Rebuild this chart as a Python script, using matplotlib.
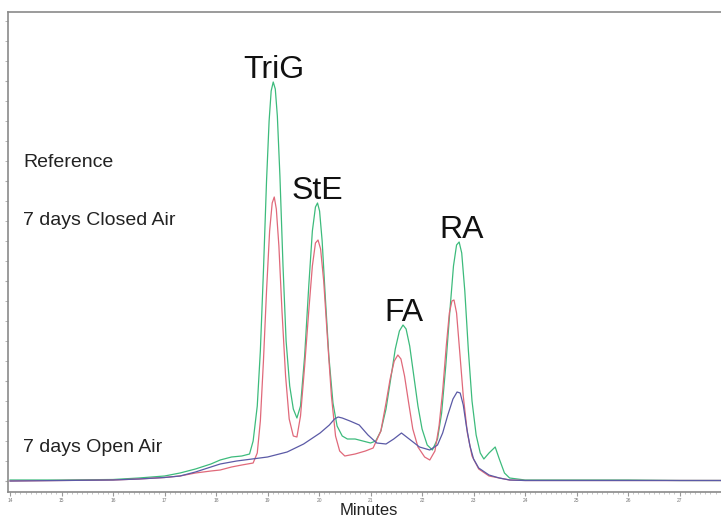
import matplotlib
matplotlib.use("Agg")
import matplotlib.pyplot as plt
from matplotlib.ticker import MultipleLocator

plt.rcParams["font.family"] = ["Liberation Sans", "DejaVu Sans"]

# retention time (min) and detector response (arbitrary units)
ref_t = [14.0, 15.0, 16.0, 16.5, 17.0, 17.3, 17.6, 17.9, 18.08, 18.3, 18.5, 18.65,
         18.72, 18.8, 18.86, 18.92, 18.98, 19.03, 19.07, 19.11, 19.15, 19.19, 19.24,
         19.3, 19.36, 19.43, 19.5, 19.57, 19.64, 19.72, 19.8, 19.87, 19.93, 19.97,
         20.01, 20.06, 20.12, 20.19, 20.27, 20.35, 20.45, 20.55, 20.7, 20.85, 21.0,
         21.1, 21.2, 21.3, 21.4, 21.48, 21.56, 21.63, 21.69, 21.76, 21.84, 21.92,
         22.0, 22.1, 22.2, 22.3, 22.38, 22.46, 22.54, 22.61, 22.67, 22.72, 22.77,
         22.83, 22.9, 22.97, 23.05, 23.13, 23.2, 23.3, 23.42, 23.5, 23.6, 23.7, 24.0,
         25.0, 26.0, 27.0, 27.9]
ref_v = [1, 1, 1.5, 3, 5, 8, 12, 17, 21, 24, 25, 27,
         40, 75, 130, 210, 300, 360, 390, 399, 392, 365, 305,
         215, 140, 95, 72, 63, 75, 125, 195, 250, 274, 278,
         270, 240, 185, 125, 78, 55, 45, 42, 42, 40, 38,
         40, 50, 72, 105, 132, 150, 156, 152, 135, 105, 75,
         52, 36, 31, 42, 68, 115, 170, 215, 236, 239, 228,
         190, 130, 80, 46, 28, 22, 28, 34, 22, 8, 3, 1,
         1, 1, 0.5, 0.5]

closed_t = [14.0, 15.0, 16.0, 16.5, 17.0, 17.3, 17.6, 17.9, 18.08, 18.3, 18.5, 18.72,
            18.8, 18.86, 18.92, 18.98, 19.04, 19.09, 19.13, 19.17, 19.22, 19.28, 19.35,
            19.42, 19.5, 19.57, 19.64, 19.72, 19.8, 19.87, 19.93, 19.98, 20.03, 20.09,
            20.16, 20.24, 20.32, 20.4, 20.5, 20.7, 20.9, 21.05, 21.2, 21.3, 21.38,
            21.46, 21.53, 21.59, 21.66, 21.74, 21.82, 21.92, 22.05, 22.15, 22.25, 22.33,
            22.4, 22.47, 22.53, 22.58, 22.62, 22.67, 22.73, 22.8, 22.88, 22.97, 23.1,
            23.3, 23.5, 23.7, 24.0, 25.0, 26.0, 27.0, 27.9]
closed_v = [0, 0.5, 1, 2, 3.5, 5, 8, 10, 11, 14, 16, 18,
            28, 60, 120, 190, 250, 278, 284, 272, 235, 170, 105,
            62, 45, 44, 65, 115, 170, 215, 238, 241, 232, 200,
            145, 85, 45, 30, 25, 27, 30, 33, 50, 78, 102,
            120, 126, 122, 105, 78, 52, 34, 24, 21, 30, 55,
            90, 135, 168, 180, 181, 168, 130, 85, 48, 25, 12,
            5, 3, 1, 0.5, 0.5, 0.5, 0.5, 0.5]

open_t = [14.0, 15.0, 16.0, 16.5, 17.0, 17.3, 17.6, 17.9, 18.08, 18.4, 18.7, 19.0,
          19.38, 19.7, 20.02, 20.2, 20.3, 20.37, 20.45, 20.6, 20.78, 20.95, 21.12,
          21.3, 21.45, 21.6, 21.75, 21.95, 22.15, 22.3, 22.4, 22.5, 22.6, 22.68,
          22.74, 22.8, 22.86, 22.93, 23.0, 23.1, 23.3, 23.5, 23.7, 24.0, 25.0, 26.0,
          27.0, 27.9]
open_v = [0, 0.5, 1, 2, 3.5, 5, 9, 14, 17, 20, 22, 24,
          29, 37, 48, 56, 62, 64, 63, 60, 56, 46, 38,
          37, 42, 48, 42, 34, 31, 36, 48, 66, 82, 89,
          88, 76, 55, 35, 22, 13, 6, 3, 1, 0.5, 0.5, 0.5,
          0.5, 0.5]

peak_names = ["TriG", "StE", "FA", "RA"]
peak_t = [19.13, 19.97, 21.64, 22.76]
peak_h = [399, 278, 156, 239]

series_names = ["Reference", "7 days Closed Air", "7 days Open Air"]

fig = plt.figure(figsize=(7.21, 5.17), dpi=100)
ax = fig.add_axes([8 / 721, 25 / 517, 721 / 721, 480 / 517])

ax.plot(ref_t, ref_v, color="#3dbb7c", lw=0.9)
ax.plot(closed_t, closed_v, color="#e0697a", lw=0.9)
ax.plot(open_t, open_v, color="#5b5aa6", lw=0.9)

ax.set_xlim(13.96, 27.96)
ax.set_ylim(-11, 469)

# peak labels, sitting just above each peak
for name, t, h in zip(peak_names, peak_t, peak_h):
    ax.text(t, h + 4, name, ha="center", va="baseline", fontsize=23, color="#111111")

# series labels on the left
for name, y in zip(series_names, [314, 256, 29]):
    ax.text(14.26, y, name, ha="left", va="baseline", fontsize=14, color="#222222")

for side in ["left", "bottom", "top", "right"]:
    ax.spines[side].set_color("#8a8a8a")
    ax.spines[side].set_linewidth(1.2)

ax.xaxis.set_major_locator(MultipleLocator(1))
ax.xaxis.set_minor_locator(MultipleLocator(0.1))
ax.yaxis.set_major_locator(MultipleLocator(100))
ax.yaxis.set_minor_locator(MultipleLocator(20))
ax.tick_params(axis="x", which="major", labelsize=3.5, labelcolor="#777777",
               length=3, color="#999999", pad=1)
ax.tick_params(axis="x", which="minor", length=1.5, color="#bbbbbb")
ax.tick_params(axis="y", which="both", labelleft=False, length=2, color="#aaaaaa")

ax.set_xlabel("Minutes", fontsize=12, labelpad=0, color="#222222")

fig.savefig("out.png", dpi=100)
